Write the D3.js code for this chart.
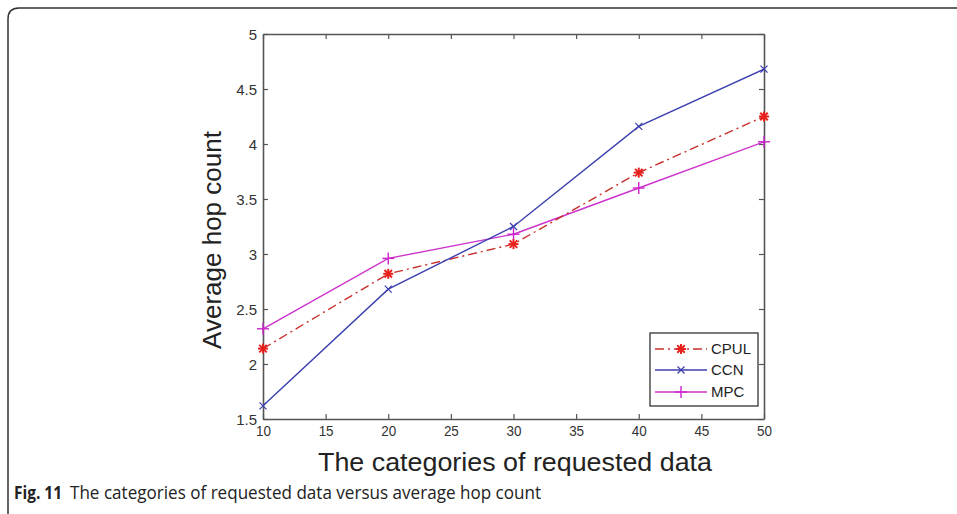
<!DOCTYPE html>
<html><head><meta charset="utf-8">
<script src="https://cdn.jsdelivr.net/npm/d3@7"></script>
<style>body{margin:0;background:#fff;}svg{display:block;}</style>
</head><body>
<script>
const categories = [10, 20, 30, 40, 50];
const cpul = [2.14, 2.82, 3.09, 3.74, 4.25];
const ccn  = [1.62, 2.68, 3.25, 4.16, 4.68];
const mpc  = [2.32, 2.96, 3.18, 3.60, 4.02];
const xTicks = [10, 15, 20, 25, 30, 35, 40, 45, 50];
const yTicks = [1.5, 2, 2.5, 3, 3.5, 4, 4.5, 5];
const seriesNames = ["CPUL", "CCN", "MPC"];

const W = 957, H = 514;
const svg = d3.select("body").append("svg").attr("width", W).attr("height", H);
svg.append("rect").attr("width", W).attr("height", H).attr("fill", "#fff");

// outer frame
svg.append("path").attr("d", "M8,514 L8,19 Q8,8 19,8 L957,8")
  .attr("fill", "none").attr("stroke", "#333").attr("stroke-width", 1.5);

const L = 263, R = 764, T = 34, B = 419;
const x = d3.scaleLinear().domain([10, 50]).range([L, R]);
const y = d3.scaleLinear().domain([1.5, 5]).range([B, T]);

const axisColor = "#555";
const tickFont = "Liberation Sans, Arial, sans-serif";

// axes (ticks inward)
const gB = svg.append("g").attr("transform", `translate(0,${B})`)
  .call(d3.axisBottom(x).tickValues(xTicks).tickSizeInner(-5).tickSizeOuter(0).tickPadding(6).tickFormat(d3.format("d")));
const gT = svg.append("g").attr("transform", `translate(0,${T})`)
  .call(d3.axisTop(x).tickValues(xTicks).tickSizeInner(-5).tickSizeOuter(0).tickFormat(""));
const gL = svg.append("g").attr("transform", `translate(${L},0)`)
  .call(d3.axisLeft(y).tickValues(yTicks).tickSizeInner(-5).tickSizeOuter(0).tickPadding(6).tickFormat(d => d));
const gR = svg.append("g").attr("transform", `translate(${R},0)`)
  .call(d3.axisRight(y).tickValues(yTicks).tickSizeInner(-5).tickSizeOuter(0).tickFormat(""));
[gB, gT, gL, gR].forEach(g => {
  g.select(".domain").attr("stroke", axisColor).attr("stroke-width", 1.6);
  g.selectAll(".tick line").attr("stroke", axisColor).attr("stroke-width", 1.2);
  g.selectAll("text").attr("font-family", tickFont).attr("font-size", 15).attr("fill", "#333");
});
gB.selectAll(".tick text").attr("textLength", 15).attr("lengthAdjust", "spacingAndGlyphs");
gL.selectAll(".tick text").attr("dy", "0.35em");

// series
const colors = {CPUL: "#c8302c", CCN: "#3b3fae", MPC: "#cc33cc"};
const markerColors = {CPUL: "#e8201c", CCN: "#3b3fae", MPC: "#cc22cc"};
const dashes = {CPUL: "9,4,2,4", CCN: null, MPC: null};
const data = {CPUL: cpul, CCN: ccn, MPC: mpc};

const line = d3.line().x(d => x(d[0])).y(d => y(d[1]));

function marker(g, name, cx, cy) {
  const c = markerColors[name];
  if (name === "CPUL") {
    const s = 5;
    [[-s,0,s,0],[0,-s,0,s],[-s*0.75,-s*0.75,s*0.75,s*0.75],[-s*0.75,s*0.75,s*0.75,-s*0.75]].forEach(p =>
      g.append("line").attr("x1", cx+p[0]).attr("y1", cy+p[1]).attr("x2", cx+p[2]).attr("y2", cy+p[3])
        .attr("stroke", c).attr("stroke-width", 2));
  } else if (name === "CCN") {
    const s = 3.5;
    [[-s,-s,s,s],[-s,s,s,-s]].forEach(p =>
      g.append("line").attr("x1", cx+p[0]).attr("y1", cy+p[1]).attr("x2", cx+p[2]).attr("y2", cy+p[3])
        .attr("stroke", c).attr("stroke-width", 1.2));
  } else {
    const s = 6;
    [[-s,0,s,0],[0,-s,0,s]].forEach(p =>
      g.append("line").attr("x1", cx+p[0]).attr("y1", cy+p[1]).attr("x2", cx+p[2]).attr("y2", cy+p[3])
        .attr("stroke", c).attr("stroke-width", 1.4));
  }
}

const plotG = svg.append("g");
["MPC", "CPUL", "CCN"].forEach(name => {
  const pts = categories.map((c, i) => [c, data[name][i]]);
  plotG.append("path").attr("d", line(pts)).attr("fill", "none")
    .attr("stroke", colors[name]).attr("stroke-width", 1.4)
    .attr("stroke-dasharray", dashes[name]);
  pts.forEach(p => marker(plotG, name, x(p[0]), y(p[1])));
});

// legend
const lg = svg.append("g");
lg.append("rect").attr("x", 650).attr("y", 333).attr("width", 108).attr("height", 73)
  .attr("fill", "#fff").attr("stroke", "#333").attr("stroke-width", 1.3);
const legY = [349, 370, 392];
seriesNames.forEach((name, i) => {
  const yy = legY[i];
  lg.append("line").attr("x1", 655).attr("x2", 707).attr("y1", yy).attr("y2", yy)
    .attr("stroke", colors[name]).attr("stroke-width", 1.4).attr("stroke-dasharray", dashes[name]);
  marker(lg, name, 681, yy);
  lg.append("text").attr("x", 711).attr("y", yy).attr("dy", "0.36em")
    .attr("font-family", tickFont).attr("font-size", 15).attr("fill", "#222").text(name);
});

// axis titles
svg.append("text").attr("x", 515).attr("y", 471).attr("text-anchor", "middle")
  .attr("font-family", tickFont).attr("font-size", 26).attr("fill", "#222")
  .attr("textLength", 394).attr("lengthAdjust", "spacingAndGlyphs")
  .text("The categories of requested data");
svg.append("text").attr("transform", "translate(221,240) rotate(-90)").attr("text-anchor", "middle")
  .attr("font-family", tickFont).attr("font-size", 26).attr("fill", "#222")
  .text("Average hop count");

// caption
svg.append("text").attr("x", 14).attr("y", 499)
  .attr("font-family", "Open Sans, Liberation Sans, sans-serif").attr("font-size", 18).attr("font-weight", "bold")
  .attr("fill", "#222").attr("textLength", 48).attr("lengthAdjust", "spacingAndGlyphs").text("Fig. 11");
svg.append("text").attr("x", 70).attr("y", 499)
  .attr("font-family", "Open Sans, Liberation Sans, sans-serif").attr("font-size", 18)
  .attr("fill", "#222").attr("textLength", 471).attr("lengthAdjust", "spacingAndGlyphs")
  .text("The categories of requested data versus average hop count");
</script>
</body></html>
